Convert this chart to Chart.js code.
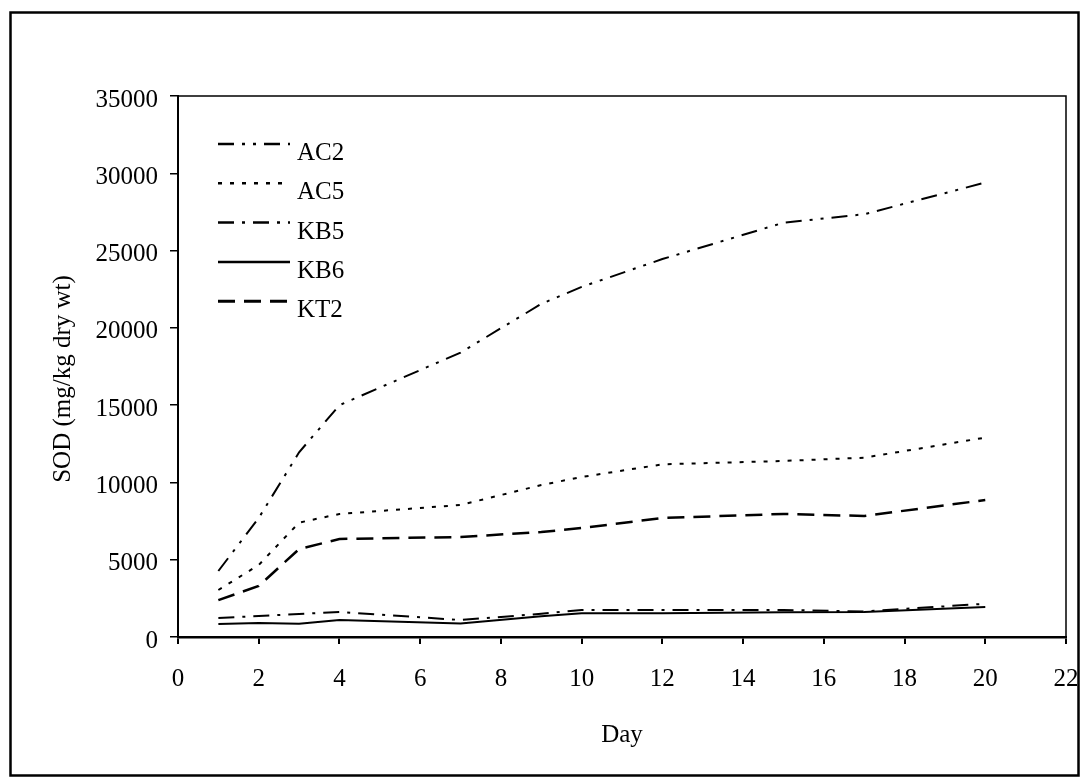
<!DOCTYPE html>
<html>
<head>
<meta charset="utf-8">
<script src="https://cdn.jsdelivr.net/npm/chart.js@4/dist/chart.umd.min.js"></script>
<style>
  html, body { margin: 0; padding: 0; background: #fff; }
  #wrap { width: 1082px; height: 778px; }
</style>
</head>
<body>
<div id="wrap"><canvas id="c" width="1082" height="778"></canvas></div>
<script>
// ---- data ----
const days = [1, 2, 3, 4, 7, 9, 10, 12, 15, 17, 20];
const seriesNames = ['AC2', 'AC5', 'KB5', 'KB6', 'KT2'];
const ac2 = [4270, 7700, 11950, 15000, 18400, 21550, 22650, 24450, 26800, 27350, 29400];
const ac5 = [3040, 4660, 7400, 7960, 8540, 9830, 10350, 11170, 11390, 11600, 12900];
const kb5 = [1230, 1360, 1490, 1620, 1100, 1500, 1750, 1750, 1750, 1650, 2150];
const kb6 = [840, 900, 860, 1100, 880, 1350, 1540, 1540, 1600, 1620, 1940];
const kt2 = [2390, 3300, 5690, 6340, 6470, 6790, 7050, 7700, 7960, 7830, 8860];
const xTickValues = [0, 2, 4, 6, 8, 10, 12, 14, 16, 18, 20, 22];
const yTickValues = [0, 5000, 10000, 15000, 20000, 25000, 30000, 35000];
const xTitle = 'Day';
const yTitle = 'SOD (mg/kg dry wt)';

// ---- styles ----
const FONT = "'Liberation Serif', 'Times New Roman', serif";
const seriesValues = [ac2, ac5, kb5, kb6, kt2];
const dashes = [
  [16, 8, 3, 8, 3, 8],
  [4, 8],
  [16, 8, 3, 8],
  [],
  [17, 9]
];
const widths = [2, 2, 2, 2, 2.5];

const datasets = seriesNames.map((name, i) => ({
  label: name,
  data: days.map((d, j) => ({ x: d, y: seriesValues[i][j] })),
  borderColor: '#000',
  backgroundColor: '#000',
  borderWidth: widths[i],
  borderDash: dashes[i],
  pointRadius: 0,
  tension: 0,
  fill: false
}));

const decorPlugin = {
  id: 'decor',
  beforeDraw(chart) {
    const ctx = chart.ctx;
    ctx.save();
    ctx.fillStyle = '#fff';
    ctx.fillRect(0, 0, chart.width, chart.height);
    ctx.restore();
  },
  afterDraw(chart) {
    const ctx = chart.ctx;
    const a = chart.chartArea;
    ctx.save();
    // plot frame (top & right)
    ctx.strokeStyle = '#000';
    ctx.lineWidth = 1.5;
    ctx.setLineDash([]);
    ctx.beginPath();
    ctx.moveTo(a.left, a.top);
    ctx.lineTo(a.right, a.top);
    ctx.lineTo(a.right, a.bottom);
    ctx.stroke();
    // outer border
    ctx.lineWidth = 2.5;
    ctx.strokeRect(10.5, 12.5, 1068, 763);
    // legend
    ctx.font = '25px ' + FONT;
    ctx.fillStyle = '#000';
    ctx.textBaseline = 'alphabetic';
    ctx.textAlign = 'left';
    chart.data.datasets.forEach((ds, i) => {
      const base = 160 + i * 39.3;
      const ly = base - 16;
      ctx.beginPath();
      ctx.setLineDash(ds.borderDash);
      ctx.lineWidth = ds.borderWidth + 0.5;
      ctx.moveTo(218, ly);
      ctx.lineTo(290, ly);
      ctx.stroke();
      ctx.setLineDash([]);
      ctx.fillText(ds.label, 297, base);
    });
    // axis titles
    ctx.textAlign = 'center';
    ctx.fillText(xTitle, (a.left + a.right) / 2, 742);
    ctx.translate(70, 379);
    ctx.rotate(-Math.PI / 2);
    ctx.fillText(yTitle, 0, 0);
    ctx.restore();
  }
};

new Chart(document.getElementById('c'), {
  type: 'line',
  data: { datasets },
  options: {
    responsive: false,
    animation: false,
    devicePixelRatio: 1,
    layout: { padding: { top: 96, right: 0, left: 0, bottom: 0 } },
    plugins: { legend: { display: false }, tooltip: { enabled: false }, title: { display: false } },
    scales: {
      x: {
        type: 'linear',
        min: 0, max: 22,
        afterFit(scale) { scale.height = 141; scale.paddingRight = 16; },
        afterBuildTicks(scale) { scale.ticks = xTickValues.map(v => ({ value: v })); },
        ticks: { color: '#000', font: { family: FONT, size: 25 }, padding: 20, maxRotation: 0, autoSkip: false },
        grid: { drawOnChartArea: false, drawTicks: true, tickLength: 7, color: '#000', lineWidth: 2 },
        border: { display: true, color: '#000', width: 2.5 },
        title: { display: false }
      },
      y: {
        type: 'linear',
        min: 0, max: 35000,
        afterFit(scale) { scale.width = 178; },
        afterBuildTicks(scale) { scale.ticks = yTickValues.map(v => ({ value: v })); },
        ticks: { color: '#000', font: { family: FONT, size: 25 }, padding: 12, labelOffset: 4, autoSkip: false,
                 callback: v => String(v) },
        grid: { drawOnChartArea: false, drawTicks: true, tickLength: 8, color: '#000', lineWidth: 1.5 },
        border: { display: true, color: '#000', width: 2 },
        title: { display: false }
      }
    }
  },
  plugins: [decorPlugin]
});
</script>
</body>
</html>
